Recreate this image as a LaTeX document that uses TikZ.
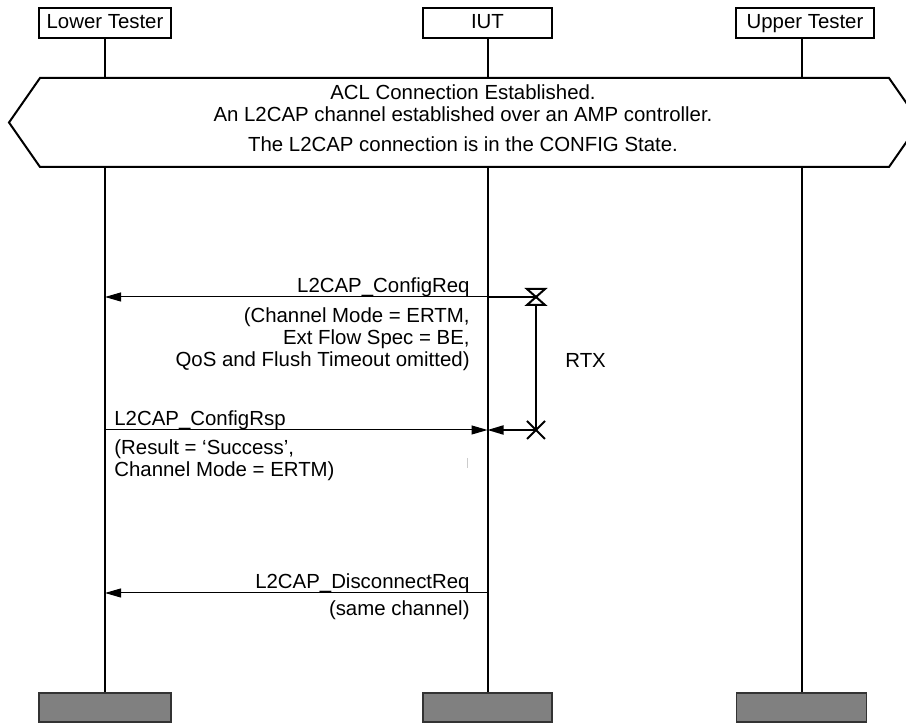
\documentclass[tikz,border=0pt]{standalone}
\usepackage{fontspec}
\setmainfont{Liberation Sans}
\usetikzlibrary{arrows.meta}

\tikzset{
  entity/.style={draw, line width=0.9pt, minimum width=#1, minimum height=15pt, inner sep=0pt,
    text height=7.3pt, text depth=2.1pt},
  endbox/.style={draw=black!80, fill=gray, line width=0.9pt, minimum width=#1, minimum height=14.5pt, inner sep=0pt},
  lifeline/.style={line width=1pt},
  hexa/.style={draw, fill=white, line width=1pt, line join=miter},
  msg/.style={line width=0.5pt, ->},
  timer/.style={line width=1pt},
  lbl/.style={inner sep=0pt, align=#1},
}

\begin{document}
\begin{tikzpicture}[x=0.5pt, y=-0.5pt, font=\fontsize{10.2}{11}\selectfont,
    >={Triangle[length=8pt, width=4.5pt]}]
  \useasboundingbox (0,0) rectangle (906,726);
  \clip (0,0) rectangle (906,726);

  % ---- Instanzen oben ----
  \node[entity=66pt]   (lt)  at (105,23)   {Lower Tester};
  \node[entity=64.5pt] (iut) at (487.5,23) {IUT};
  \node[entity=69pt]   (ut)  at (805,23)   {Upper Tester};

  % ---- Enden unten ----
  \node[endbox=66pt]   (ltend)  at (105,707.5)   {};
  \node[endbox=64.5pt] (iutend) at (487.5,707.5) {};
  \node[endbox=65pt]   (utend)  at (801.5,707.5) {};

  % ---- Lebenslinien ----
  \draw[lifeline] (ltend.north)  -- (ltend.north |- lt.south);
  \draw[lifeline] (iutend.north) -- (iutend.north |- iut.south);
  \draw[lifeline] (utend.north)  -- (utend.north |- ut.south);

  % ---- Vorbedingung ----
  \draw[hexa] (40,78) -- (889,78) -- (920,122.5) -- (889,167) -- (40,167) -- (9,122.5) -- cycle;
  \node[lbl=center, anchor=north] (setup) at (463,84)
    {ACL Connection Established.\\
     An L2CAP channel established over an AMP controller.\\[4pt]
     The L2CAP connection is in the CONFIG State.};

  % ---- Punkte auf den Lebenslinien ----
  \coordinate (iut-req) at (iutend |- 0,297);
  \coordinate (lt-req)  at (ltend |- 0,297);
  \coordinate (lt-rsp)  at (ltend |- 0,430);
  \coordinate (iut-rsp) at (iutend |- 0,430);
  \coordinate (iut-dis) at (iutend |- 0,593);
  \coordinate (lt-dis)  at (ltend |- 0,593);

  % ---- L2CAP_ConfigReq ----
  \draw[msg] (iut-req) -- (lt-req);
  \node[lbl=right, anchor=base east] (reqname) at (470,293) {L2CAP\_ConfigReq};
  \node[lbl=right, anchor=north east] (reqpar) at (470,307)
    {(Channel Mode = ERTM,\\Ext Flow Spec = BE,\\QoS and Flush Timeout omitted)};

  % ---- Timer RTX ----
  \coordinate (tstart) at (536,297);
  \coordinate (tstop)  at (536,430);
  \draw[timer] (iut-req) -- (tstart);
  \draw[timer] (tstart) ++(-9,-8) -- ++(18,0) -- ++(-18,16) -- ++(18,0) -- cycle;
  \draw[timer] (tstart) ++(0,8) -- (tstop);
  \draw[timer] (tstop) ++(-9,-9) -- ++(18,18) ++(0,-18) -- ++(-18,18);
  \draw[timer, ->] (tstop) -- (iut-rsp);
  \node[lbl=left, anchor=west] (rtx) at (565,360) {RTX};

  % ---- L2CAP_ConfigRsp ----
  \draw[msg] (lt-rsp) -- (iut-rsp);
  \node[lbl=left, anchor=base west] (rspname) at (114,426) {L2CAP\_ConfigRsp};
  \node[lbl=left, anchor=north west] (rsppar) at (114,439)
    {(Result = ‘Success’,\\Channel Mode = ERTM)};
  \draw[gray!40, line width=0.5pt] (467,458) -- (467,468);

  % ---- L2CAP_DisconnectReq ----
  \draw[msg] (iut-dis) -- (lt-dis);
  \node[lbl=right, anchor=base east] (disname) at (470,589) {L2CAP\_DisconnectReq};
  \node[lbl=right, anchor=north east] (dispar) at (470,600) {(same channel)};
\end{tikzpicture}
\end{document}
